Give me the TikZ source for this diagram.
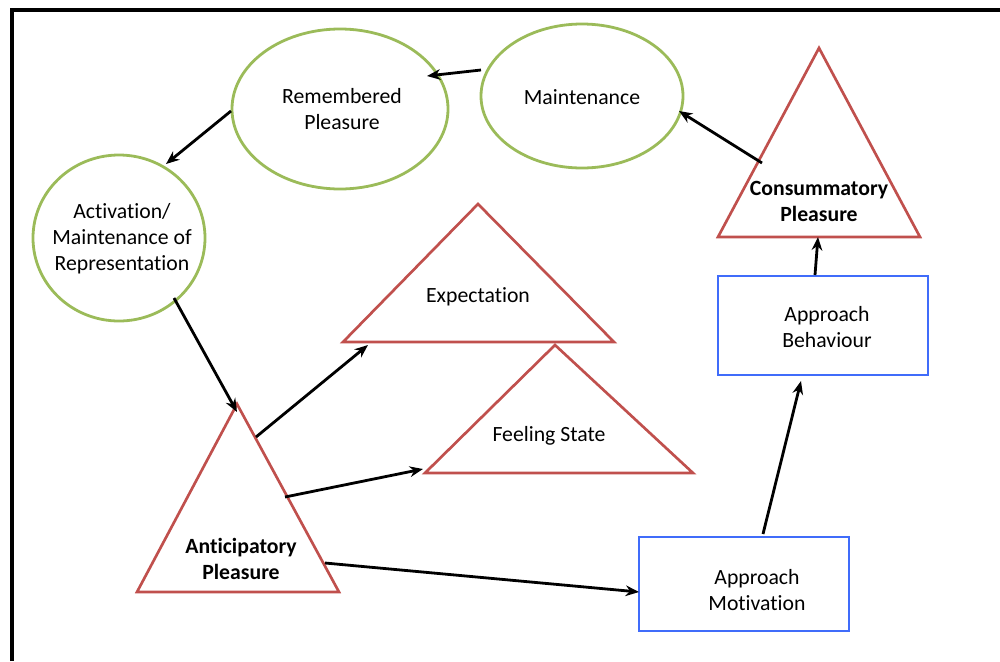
\documentclass[tikz,border=0pt]{standalone}
\usepackage{fontspec}
\setmainfont[Ligatures=NoCommon]{Carlito}
\usetikzlibrary{shapes.geometric,arrows.meta}
\definecolor{eg}{RGB}{155,187,89}
\definecolor{er}{RGB}{192,80,77}
\definecolor{eb}{RGB}{64,108,250}
\begin{document}
\begin{tikzpicture}[x=0.75pt,y=-0.75pt,
  every node/.style={font=\fontsize{16.3}{19.5}\selectfont,align=center,inner sep=0pt},
  ell/.style={draw=eg,line width=2.1pt,ellipse},
  tri/.style={draw=er,line width=2pt,line join=miter},
  boxb/.style={draw=eb,line width=2.2pt,rectangle},
  arr/.style={line width=2.1pt,-{Stealth[length=10pt,width=8pt]}}]
\useasboundingbox (0,0) rectangle (1000,661);
\draw[line width=2.3pt] (12,661) -- (12,10) -- (1000,10);
% ellipses
\node[ell,minimum width=216*0.75pt,minimum height=160*0.75pt] (rem) at (340,109) {};
\node (remT) at (342,109) {Remembered\\Pleasure};
\node[ell,minimum width=202*0.75pt,minimum height=144*0.75pt] (mai) at (582,96) {};
\node (maiT) at (582,97) {Maintenance};
\node[ell,minimum width=172*0.75pt,minimum height=166*0.75pt] (act) at (119,238) {};
\node (actT0) at (122,239) {Activation/\\Maintenance of\\Representation};
% triangles
\draw[tri] (819,48) -- (920,237) -- (718,237) -- cycle;
\node (con) at (819,201) {\bfseries Consummatory\\\bfseries Pleasure};
\draw[tri] (478,204) -- (614,342) -- (343,342) -- cycle;
\node (exp) at (478,297) {Expectation};
\draw[tri] (555,345) -- (693,473) -- (425,473) -- cycle;
\node (fee) at (549,436) {Feeling State};
\draw[tri] (237,404) -- (339,592) -- (137,592) -- cycle;
\node (ant) at (241,559) {\bfseries Anticipatory\\\bfseries Pleasure};
% boxes
\node[boxb,minimum width=210*0.75pt,minimum height=99*0.75pt] (beh) at (823,325.5) {};
\node (behT0) at (827,327) {Approach\\Behaviour};
\node[boxb,minimum width=210*0.75pt,minimum height=94*0.75pt] (mot) at (744,584) {};
\node (motT0) at (757,590) {Approach\\Motivation};
% connector endpoints
\coordinate (maiL) at (481,70);
\coordinate (remR) at (427,76);
\coordinate (remL) at (231,111);
\coordinate (actT) at (166,164);
\coordinate (actB) at (174,298);
\coordinate (antT) at (237,412);
\coordinate (antA) at (256,437);
\coordinate (expB) at (368,345);
\coordinate (antF) at (285,497);
\coordinate (feeL) at (423,469);
\coordinate (antM) at (325,563);
\coordinate (motL) at (639,592);
\coordinate (motT) at (763,534);
\coordinate (behB) at (801,381);
\coordinate (behT) at (815,275);
\coordinate (conB) at (818,237);
\coordinate (conL) at (762,163);
\coordinate (maiR) at (679,111);
\draw[arr] (maiL) -- (remR);
\draw[arr] (remL) -- (actT);
\draw[arr] (actB) -- (antT);
\draw[arr] (antA) -- (expB);
\draw[arr] (antF) -- (feeL);
\draw[arr] (antM) -- (motL);
\draw[arr] (motT) -- (behB);
\draw[arr] (behT) -- (conB);
\draw[arr] (conL) -- (maiR);
\end{tikzpicture}
\end{document}
